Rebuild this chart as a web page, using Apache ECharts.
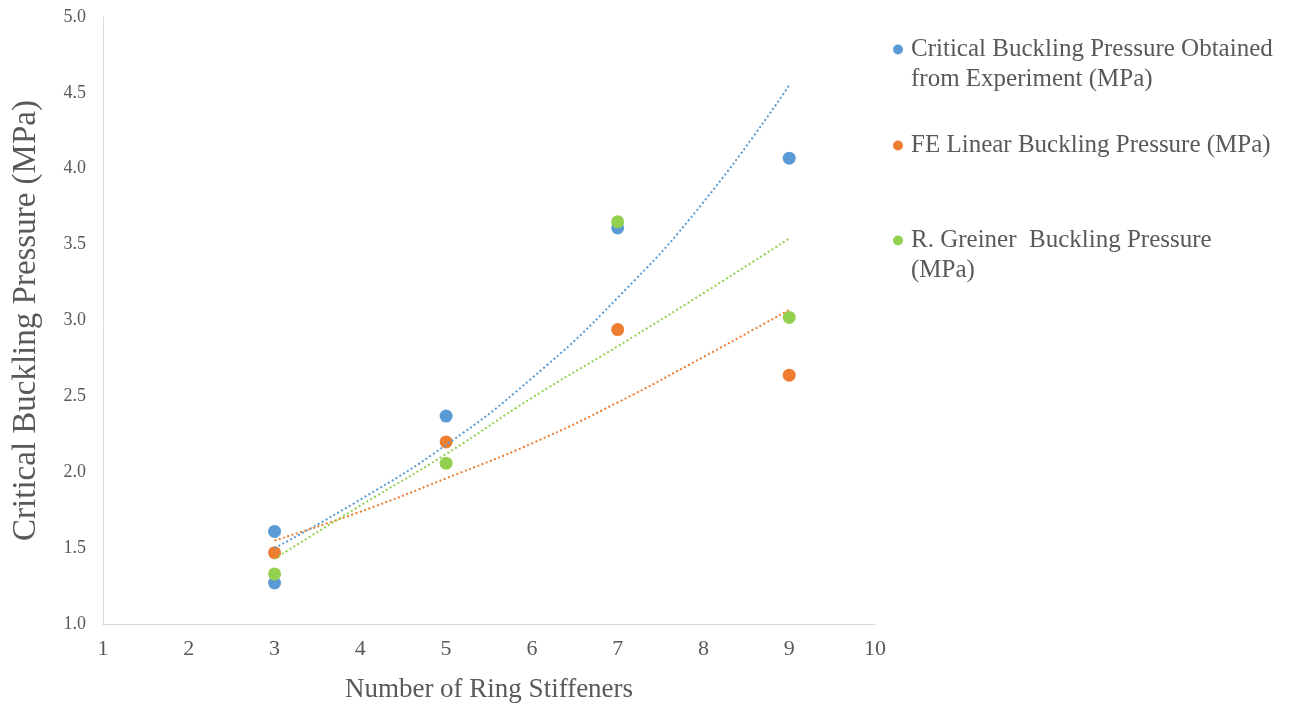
<!DOCTYPE html>
<html>
<head>
<meta charset="utf-8">
<script src="https://cdn.jsdelivr.net/npm/echarts@6/dist/echarts.min.js"></script>
<style>
  html, body { margin: 0; padding: 0; background: #fff; }
  #chart { width: 1291px; height: 708px; }
</style>
</head>
<body>
<div id="chart"></div>
<script>
// Number of ring stiffeners vs. critical buckling pressure (MPa)
const experimentX = [3, 3, 5, 7, 9];
const experimentY = [1.61, 1.27, 2.37, 3.61, 4.07];
const feX = [3, 5, 7, 9];
const feY = [1.47, 2.20, 2.94, 2.64];
const greinerX = [3, 5, 7, 9];
const greinerY = [1.33, 2.06, 3.65, 3.02];

// Trendline values at each stiffener count
const trendX = [3, 4, 5, 6, 7, 8, 9];
const experimentTrend = [1.50, 1.82, 2.18, 2.62, 3.15, 3.78, 4.55];
const feTrend = [1.55, 1.74, 1.96, 2.19, 2.46, 2.76, 3.07];
const greinerTrend = [1.43, 1.78, 2.12, 2.49, 2.83, 3.18, 3.54];

const xTicks = { min: 1, max: 10, step: 1 };
const yTicks = { min: 1.0, max: 5.0, step: 0.5 };

const names = [
  'Critical Buckling Pressure Obtained from Experiment (MPa)',
  'FE Linear Buckling Pressure (MPa)',
  'R. Greiner  Buckling Pressure (MPa)'
];
// Wrapped legend lines; the leading blank line keeps the marker level with the first line
const legendText = {
  [names[0]]: '{e| }\n{t|Critical Buckling Pressure Obtained}\n{t|from Experiment (MPa)}',
  [names[1]]: '{t|FE Linear Buckling Pressure (MPa)}',
  [names[2]]: '{e| }\n{t|R. Greiner  Buckling Pressure}\n{t|(MPa)}'
};
const colors = ['#5B9BD5', '#ED7D31', '#92D050'];

const pairs = (xs, ys) => xs.map((x, i) => [x, ys[i]]);
const FONT = '"Liberation Serif", "Times New Roman", serif';
const TEXT = '#595959';

function legendFor(name, top) {
  return {
    data: [name],
    left: 888,
    top: top,
    orient: 'vertical',
    icon: 'circle',
    itemWidth: 16,
    itemHeight: 10,
    selectedMode: false,
    formatter: n => legendText[n],
    textStyle: {
      fontFamily: FONT,
      fontSize: 25,
      color: TEXT,
      rich: {
        e: { fontFamily: FONT, fontSize: 25, lineHeight: 30 },
        t: { fontFamily: FONT, fontSize: 25, lineHeight: 30, color: TEXT }
      }
    }
  };
}

function scatter(i, data) {
  return {
    name: names[i],
    type: 'scatter',
    data: data,
    symbolSize: 13,
    itemStyle: { color: colors[i], opacity: 1 },
    z: 2
  };
}

function trend(i, ys) {
  return {
    name: names[i] + ' trend',
    type: 'line',
    data: pairs(trendX, ys),
    smooth: true,
    showSymbol: false,
    silent: true,
    lineStyle: { color: colors[i], width: 2, type: [2, 2.5] },
    z: 3
  };
}

const chart = echarts.init(document.getElementById('chart'), null, { renderer: 'canvas' });
chart.setOption({
  animation: false,
  backgroundColor: '#ffffff',
  grid: { left: 103, right: 416, top: 17, bottom: 82 },
  legend: [
    legendFor(names[0], 2),
    legendFor(names[1], 128),
    legendFor(names[2], 193)
  ],
  xAxis: {
    type: 'value',
    min: xTicks.min,
    max: xTicks.max,
    interval: xTicks.step,
    name: 'Number of Ring Stiffeners',
    nameLocation: 'middle',
    nameGap: 52,
    nameTextStyle: { fontFamily: FONT, fontSize: 27, color: TEXT },
    axisLine: { show: true, lineStyle: { color: '#D9D9D9', width: 1 } },
    axisTick: { show: false },
    splitLine: { show: false },
    axisLabel: { fontFamily: FONT, fontSize: 22, color: TEXT, margin: 14 }
  },
  yAxis: {
    type: 'value',
    min: yTicks.min,
    max: yTicks.max,
    interval: yTicks.step,
    name: 'Critical Buckling Pressure (MPa)',
    nameLocation: 'middle',
    nameGap: 60,
    nameTextStyle: { fontFamily: FONT, fontSize: 33, color: TEXT },
    axisLine: { show: true, lineStyle: { color: '#D9D9D9', width: 1 } },
    axisTick: { show: false },
    splitLine: { show: false },
    axisLabel: {
      fontFamily: FONT, fontSize: 18, color: TEXT, margin: 17,
      formatter: v => v.toFixed(1)
    }
  },
  series: [
    scatter(0, pairs(experimentX, experimentY)),
    scatter(1, pairs(feX, feY)),
    scatter(2, pairs(greinerX, greinerY)),
    trend(0, experimentTrend),
    trend(1, feTrend),
    trend(2, greinerTrend)
  ]
});
</script>
</body>
</html>
